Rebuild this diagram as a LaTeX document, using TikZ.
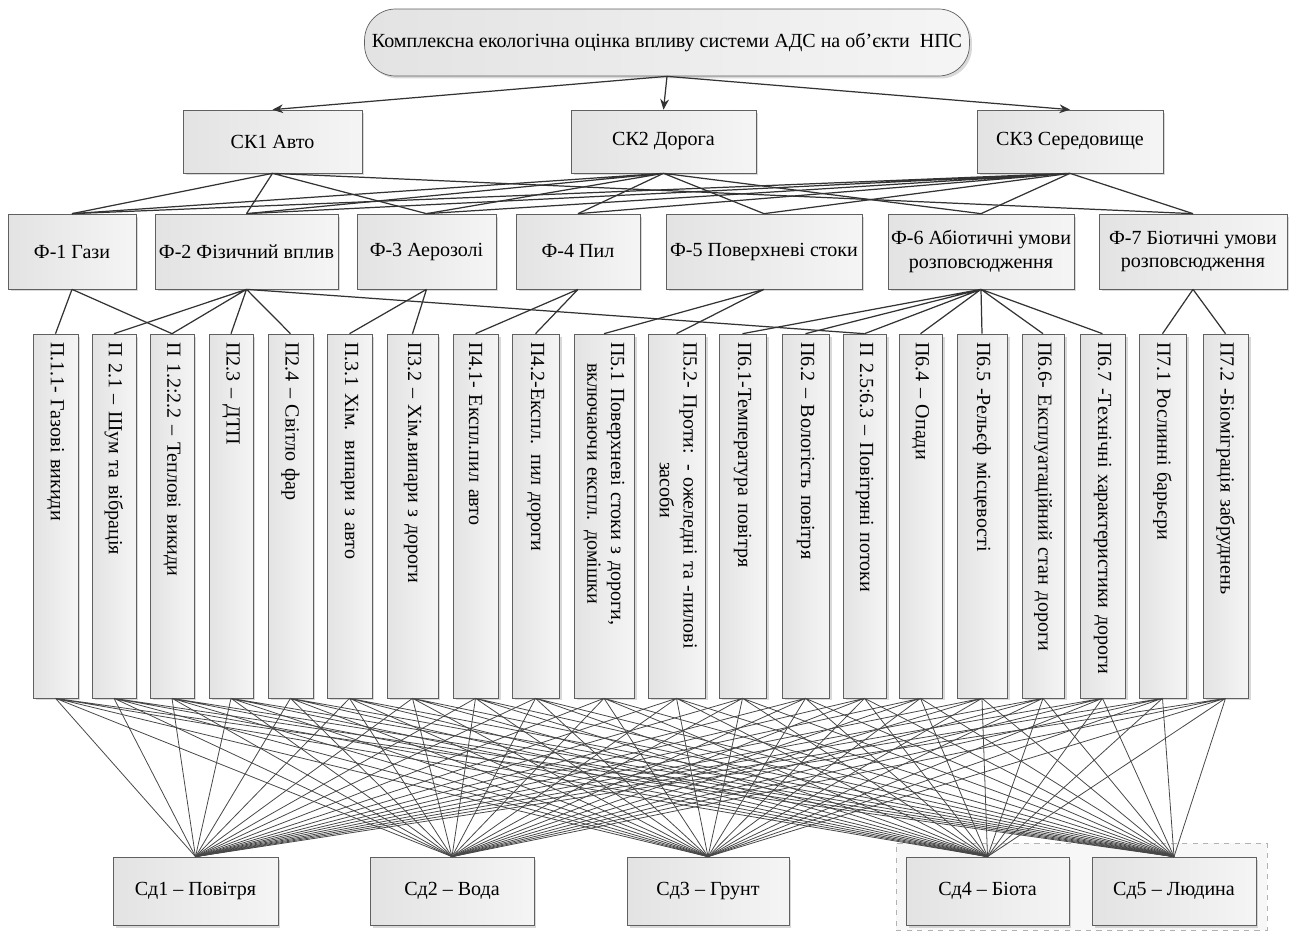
\documentclass[tikz,border=0pt]{standalone}
\usepackage{fontspec}
\setmainfont{Liberation Serif}
\usetikzlibrary{arrows.meta,shadows}
\tikzset{
	box/.style={draw=gray!75!black, left color=gray!22, right color=gray!8,
		drop shadow={shadow xshift=0.05cm, shadow yshift=-0.05cm, opacity=0.3},
		align=center, inner sep=0pt, font=\fontsize{11.4pt}{13.6pt}\selectfont},
	topbox/.style={box, rounded corners=0.62cm, minimum width=12.1cm, minimum height=1.34cm},
	skbox/.style={box, minimum height=1.26cm},
	fbox/.style={box, minimum height=1.5cm},
	pbox/.style={box, rotate=-90, minimum width=7.28cm, text width=6.96cm, inner xsep=0.16cm, align=left},
	sdbox/.style={box, minimum height=1.36cm},
	grpbox/.style={draw=gray!60, dashed, fill=gray!6, minimum width=7.42cm, minimum height=1.74cm},
	link/.style={draw=black!80, line width=0.7pt},
	fan/.style={draw=black!72, line width=0.45pt}
}
\begin{document}
\begin{tikzpicture}[x=0.02cm,y=-0.02cm]
		\useasboundingbox (0,0) rectangle (1295,933);
		\node[grpbox] (grp) at (1081.5,886.5) {};
		% top level
		\node[topbox] (top) at (667,42.5) {Комплексна екологічна оцінка впливу системи АДС на об’єкти~~НПС};
		\node[skbox, minimum width=3.58cm] (sk1) at (272.5,141.5) {СК1 Авто};
		\node[skbox, minimum width=3.70cm] (sk2) at (663.5,141.5) {СК2 Дорога};
		\node[skbox, minimum width=3.72cm] (sk3) at (1070,141.5) {СК3 Середовище};
		% factors
		\node[fbox, minimum width=2.56cm] (f1) at (72,251.5) {Ф-1 Гази};
		\node[fbox, minimum width=3.66cm] (f2) at (246.5,251.5) {Ф-2 Фізичний вплив};
		\node[fbox, minimum width=2.78cm] (f3) at (426.5,251.5) {Ф-3 Аерозолі};
		\node[fbox, minimum width=2.48cm] (f4) at (578,251.5) {Ф-4 Пил};
		\node[fbox, minimum width=3.92cm] (f5) at (764,251.5) {Ф-5 Поверхневі стоки};
		\node[fbox, minimum width=3.72cm] (f6) at (981,251.5) {Ф-6 Абіотичні умови\\розповсюдження};
		\node[fbox, minimum width=3.76cm] (f7) at (1193,251.5) {Ф-7 Біотичні умови\\розповсюдження};
		% parameters
		\node[pbox, minimum height=0.90cm] (p1)  at (55.5,516)  {П.1.1- Газові викиди};
		\node[pbox, minimum height=0.88cm] (p2)  at (114,516)   {П 2.1 – Шум та вібрація};
		\node[pbox, minimum height=0.88cm] (p3)  at (172,516)   {П 1.2:2.2 – Теплові викиди};
		\node[pbox, minimum height=0.88cm] (p4)  at (231,516)   {П2.3 – ДТП};
		\node[pbox, minimum height=0.90cm] (p5)  at (290.5,516) {П2.4 – Світло фар};
		\node[pbox, minimum height=0.90cm] (p6)  at (349.5,516) {П.3.1 Хім. випари з авто};
		\node[pbox, minimum height=1.02cm] (p7)  at (412.5,516) {П3.2 – Хім.випари з дороги};
		\node[pbox, minimum height=0.90cm] (p8)  at (475.5,516) {П4.1- Експл.пил авто};
		\node[pbox, minimum height=0.94cm] (p9)  at (535.5,516) {П4.2-Експл. пил дороги};
		\node[pbox, minimum height=1.20cm] (p10) at (604,516)   {\begin{tabular}{@{}c@{}}П5.1 Поверхневі стоки з дороги,\\ включаючи експл. домішки\end{tabular}};
		\node[pbox, minimum height=1.14cm] (p11) at (676.5,516) {\begin{tabular}{@{}l@{}}П5.2- Проти: - ожеледні та -пилові\\ \hspace*{2.4cm}засоби\end{tabular}};
		\node[pbox, minimum height=0.94cm] (p12) at (742.5,516) {П6.1-Температура повітря};
		\node[pbox, minimum height=0.94cm] (p13) at (805.5,516) {П6.2 – Вологість повітря};
		\node[pbox, minimum height=0.86cm] (p14) at (864.5,516) {П 2.5:6.3 – Повітряні потоки};
		\node[pbox, minimum height=0.86cm] (p15) at (920.5,516) {П6.4 – Опади};
		\node[pbox, minimum height=1.00cm] (p16) at (982,516)   {П6.5 -Рельєф місцевості};
		\node[pbox, minimum height=0.84cm] (p17) at (1043,516)  {П6.6- Експлуатаційний стан дороги};
		\node[pbox, minimum height=0.90cm] (p18) at (1102.5,516) {П6.7 -Технічні характеристики дороги};
		\node[pbox, minimum height=0.94cm] (p19) at (1162.5,516) {П7.1 Рослинні барьєри};
		\node[pbox, minimum height=0.90cm] (p20) at (1225.5,516) {П7.2 -Біоміграція забруднень};
		% environments
		\node[sdbox, minimum width=3.30cm] (sd1) at (195.5,891) {Сд1 – Повітря};
		\node[sdbox, minimum width=3.28cm] (sd2) at (452,891)   {Сд2 – Вода};
		\node[sdbox, minimum width=3.24cm] (sd3) at (708,891)   {Сд3 – Грунт};
		\node[sdbox, minimum width=3.26cm] (sd4) at (987.5,891) {Сд4 – Біота};
		\node[sdbox, minimum width=3.28cm] (sd5) at (1174,891)  {Сд5 – Людина};
		% arrows from the root
		\draw[link, -{Stealth[length=6pt,width=5pt]}] (top.south) -- (sk1.north);
		\draw[link, -{Stealth[length=6pt,width=5pt]}] (top.south) -- (sk2.north);
		\draw[link, -{Stealth[length=6pt,width=5pt]}] (top.south) -- (sk3.north);
		% criteria to factors
		\draw[link] (sk1.south) -- (f1.north) (sk1.south) -- (f2.north) (sk1.south) -- (f3.north) (sk1.south) -- (f7.north);
		\draw[link] (sk2.south) -- (f1.north) (sk2.south) -- (f2.north) (sk2.south) -- (f3.north);
		\draw[link] (sk2.south) -- (f4.north) (sk2.south) -- (f5.north) (sk2.south) -- (f6.north);
		\draw[link] (sk3.south) -- (f1.north) (sk3.south) -- (f2.north) (sk3.south) -- (f3.north) (sk3.south) -- (f4.north);
		\draw[link] (sk3.south) -- (f5.north) (sk3.south) -- (f6.north) (sk3.south) -- (f7.north);
		% factors to parameters
		\draw[link] (f1.south) -- (p1.west) (f1.south) -- (p3.west);
		\draw[link] (f2.south) -- (p2.west) (f2.south) -- (p3.west) (f2.south) -- (p4.west) (f2.south) -- (p5.west) (f2.south) -- (p14.west);
		\draw[link] (f3.south) -- (p6.west) (f3.south) -- (p7.west);
		\draw[link] (f4.south) -- (p8.west) (f4.south) -- (p9.west);
		\draw[link] (f5.south) -- (p10.west) (f5.south) -- (p11.west);
		\draw[link] (f6.south) -- (p12.west) (f6.south) -- (p13.west) (f6.south) -- (p14.west) (f6.south) -- (p15.west);
		\draw[link] (f6.south) -- (p16.west) (f6.south) -- (p17.west) (f6.south) -- (p18.west);
		\draw[link] (f7.south) -- (p19.west) (f7.south) -- (p20.west);
		% parameters to environments
		\draw[fan] (p1.east) -- (sd1.north) (p1.east) -- (sd2.north) (p1.east) -- (sd3.north) (p1.east) -- (sd4.north) (p1.east) -- (sd5.north);
		\draw[fan] (p2.east) -- (sd1.north) (p2.east) -- (sd2.north) (p2.east) -- (sd3.north) (p2.east) -- (sd4.north) (p2.east) -- (sd5.north);
		\draw[fan] (p3.east) -- (sd1.north) (p3.east) -- (sd2.north) (p3.east) -- (sd3.north) (p3.east) -- (sd4.north) (p3.east) -- (sd5.north);
		\draw[fan] (p4.east) -- (sd1.north) (p4.east) -- (sd2.north) (p4.east) -- (sd3.north) (p4.east) -- (sd4.north) (p4.east) -- (sd5.north);
		\draw[fan] (p5.east) -- (sd1.north) (p5.east) -- (sd2.north) (p5.east) -- (sd3.north) (p5.east) -- (sd4.north) (p5.east) -- (sd5.north);
		\draw[fan] (p6.east) -- (sd1.north) (p6.east) -- (sd2.north) (p6.east) -- (sd3.north) (p6.east) -- (sd4.north) (p6.east) -- (sd5.north);
		\draw[fan] (p7.east) -- (sd1.north) (p7.east) -- (sd2.north) (p7.east) -- (sd3.north) (p7.east) -- (sd4.north) (p7.east) -- (sd5.north);
		\draw[fan] (p8.east) -- (sd1.north) (p8.east) -- (sd2.north) (p8.east) -- (sd3.north) (p8.east) -- (sd4.north) (p8.east) -- (sd5.north);
		\draw[fan] (p9.east) -- (sd1.north) (p9.east) -- (sd2.north) (p9.east) -- (sd3.north) (p9.east) -- (sd4.north) (p9.east) -- (sd5.north);
		\draw[fan] (p10.east) -- (sd1.north) (p10.east) -- (sd2.north) (p10.east) -- (sd3.north) (p10.east) -- (sd4.north) (p10.east) -- (sd5.north);
		\draw[fan] (p11.east) -- (sd1.north) (p11.east) -- (sd2.north) (p11.east) -- (sd3.north) (p11.east) -- (sd4.north) (p11.east) -- (sd5.north);
		\draw[fan] (p12.east) -- (sd1.north) (p12.east) -- (sd2.north) (p12.east) -- (sd3.north) (p12.east) -- (sd4.north) (p12.east) -- (sd5.north);
		\draw[fan] (p13.east) -- (sd1.north) (p13.east) -- (sd2.north) (p13.east) -- (sd3.north) (p13.east) -- (sd4.north) (p13.east) -- (sd5.north);
		\draw[fan] (p14.east) -- (sd1.north) (p14.east) -- (sd2.north) (p14.east) -- (sd3.north) (p14.east) -- (sd4.north) (p14.east) -- (sd5.north);
		\draw[fan] (p15.east) -- (sd1.north) (p15.east) -- (sd2.north) (p15.east) -- (sd3.north) (p15.east) -- (sd4.north) (p15.east) -- (sd5.north);
		\draw[fan] (p16.east) -- (sd1.north) (p16.east) -- (sd2.north) (p16.east) -- (sd3.north) (p16.east) -- (sd4.north) (p16.east) -- (sd5.north);
		\draw[fan] (p17.east) -- (sd1.north) (p17.east) -- (sd2.north) (p17.east) -- (sd3.north) (p17.east) -- (sd4.north) (p17.east) -- (sd5.north);
		\draw[fan] (p18.east) -- (sd1.north) (p18.east) -- (sd2.north) (p18.east) -- (sd3.north) (p18.east) -- (sd4.north) (p18.east) -- (sd5.north);
		\draw[fan] (p19.east) -- (sd1.north) (p19.east) -- (sd2.north) (p19.east) -- (sd3.north) (p19.east) -- (sd4.north) (p19.east) -- (sd5.north);
		\draw[fan] (p20.east) -- (sd1.north) (p20.east) -- (sd2.north) (p20.east) -- (sd3.north) (p20.east) -- (sd4.north) (p20.east) -- (sd5.north);
\end{tikzpicture}
\end{document}
